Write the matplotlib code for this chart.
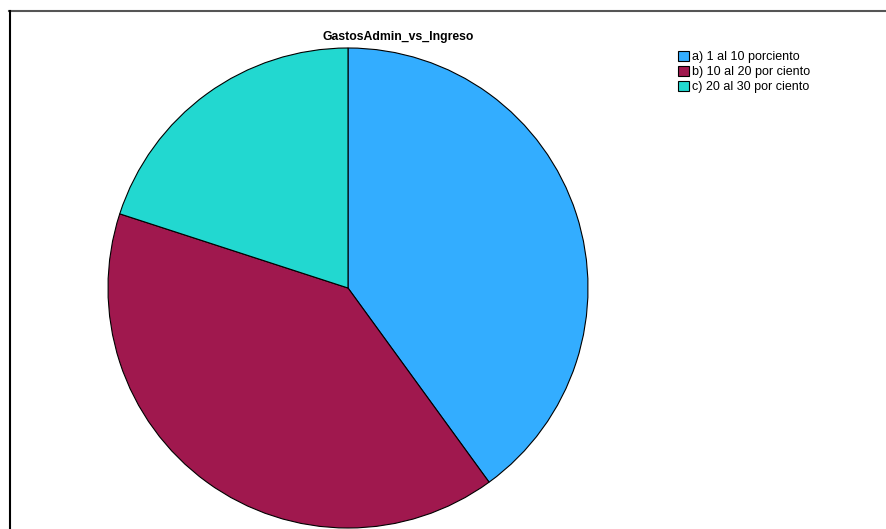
import matplotlib.pyplot as plt
from matplotlib.lines import Line2D

plt.rcParams['font.family'] = ['Liberation Sans', 'DejaVu Sans']

# share of each group of administrative expenses vs income
labels = ['a) 1 al 10 porciento', 'b) 10 al 20 por ciento', 'c) 20 al 30 por ciento']
values = [40, 40, 20]
colors = ['#33adff', '#a0184e', '#22d8d0']

W, H = 886, 529
fig = plt.figure(figsize=(W / 100, H / 100), dpi=100)

# pie axes: square, centred at (348, 288) px with radius 240 px
cx, cy, r = 348, 288, 240
ax = fig.add_axes([(cx - r) / W, (H - cy - r) / H, 2 * r / W, 2 * r / H])
wedges, _ = ax.pie(values, colors=colors, startangle=90, counterclock=False,
                   radius=1, wedgeprops=dict(edgecolor='black', linewidth=0.8))
ax.set_xlim(-1, 1)
ax.set_ylim(-1, 1)
ax.set_aspect('auto')
ax.axis('off')

fig.text(398 / W, 1 - 37 / H, 'GastosAdmin_vs_Ingreso', ha='center', va='center',
         fontsize=8.8, fontweight='bold')

fig.legend(wedges, labels, loc='upper left', bbox_to_anchor=(678 / W, 1 - 51 / H),
           frameon=False, fontsize=9.0, handlelength=0.85, handleheight=0.85,
           handletextpad=0.3, labelspacing=0.2, borderpad=0, borderaxespad=0)

# frame lines along top and left
fig.add_artist(Line2D([9 / W, 1], [1 - 11 / H, 1 - 11 / H], color='#555555', lw=1.5))
fig.add_artist(Line2D([10 / W, 10 / W], [0, 1 - 11 / H], color='black', lw=1.5))

fig.savefig('out.png', dpi=100)
